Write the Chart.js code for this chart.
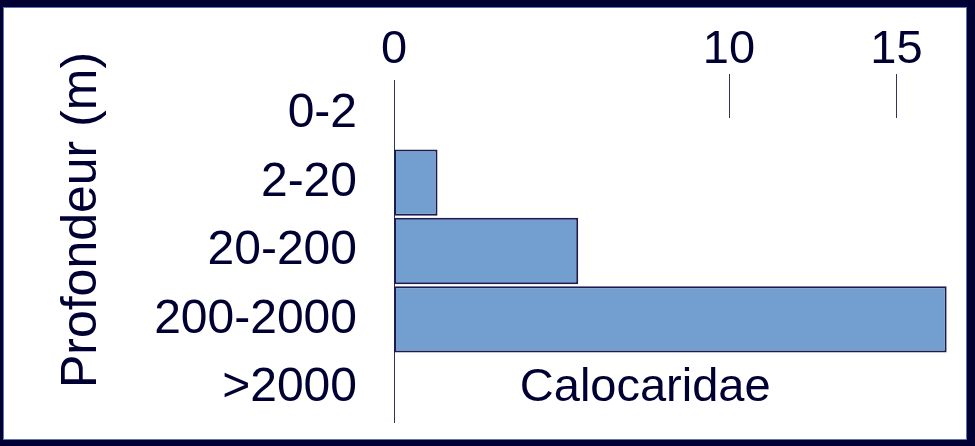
<!DOCTYPE html>
<html>
<head>
<meta charset="utf-8">
<script src="https://cdn.jsdelivr.net/npm/chart.js@4.4.1/dist/chart.umd.min.js"></script>
<style>
  html, body { margin: 0; padding: 0; background: #000033; }
  body { width: 975px; height: 446px; position: relative; overflow: hidden; }
  #frame {
    position: absolute; left: 3px; top: 7px; width: 964px; height: 433px;
    background: #ffffff; box-shadow: inset 0 0 0 1px #5a78b8;
  }
  canvas { display: block; }
</style>
</head>
<body>
<div id="frame"><canvas id="c" width="964" height="433"></canvas></div>
<script>
// Depth classes (m) and number of Calocaridae species per class
const depthClasses = ['0-2', '2-20', '20-200', '200-2000', '>2000'];
const speciesCount = [0, 1.3, 5.5, 16.5, 0];
const seriesName = 'Calocaridae';
const xTicks = [0, 10, 15];
const axisTitle = 'Profondeur (m)';

const INK = '#000033';
const FONT = 'Liberation Sans, Arial, sans-serif';

// Short tick marks hanging into the plot under the top labels,
// the series name inside the plot, and the rotated depth title
const decorations = {
  id: 'decorations',
  afterDraw(chart) {
    const { ctx, chartArea, scales } = chart;
    ctx.save();
    ctx.strokeStyle = '#333355';
    ctx.lineWidth = 1;
    xTicks.forEach(v => {
      if (v === 0) return;
      const px = Math.round(scales.x.getPixelForValue(v)) + 0.5;
      ctx.beginPath();
      ctx.moveTo(px, chartArea.top - 6);
      ctx.lineTo(px, chartArea.top + 38);
      ctx.stroke();
    });
    ctx.fillStyle = INK;
    ctx.font = '47px ' + FONT;
    ctx.textAlign = 'center';
    ctx.textBaseline = 'middle';
    ctx.fillText(chart.data.datasets[0].label,
      scales.x.getPixelForValue(7.5),
      scales.y.getPixelForValue(depthClasses.length - 1));

    ctx.font = '50px ' + FONT;
    ctx.translate(79, chartArea.top + 140);
    ctx.rotate(-Math.PI / 2);
    ctx.fillText(axisTitle, 0, 0);
    ctx.restore();
  }
};

new Chart(document.getElementById('c'), {
  type: 'bar',
  data: {
    labels: depthClasses,
    datasets: [{
      label: seriesName,
      data: speciesCount,
      backgroundColor: '#729fcf',
      borderColor: '#1c1c50',
      borderWidth: ctx => (ctx.raw ? 2 : 0),
      borderSkipped: false,
      categoryPercentage: 1,
      barPercentage: 0.97
    }]
  },
  options: {
    indexAxis: 'y',
    responsive: false,
    animation: false,
    devicePixelRatio: 1,
    layout: { padding: { left: 0, right: 17, top: 0, bottom: 18 } },
    plugins: { legend: { display: false }, tooltip: { enabled: false } },
    scales: {
      x: {
        position: 'top',
        min: 0,
        max: 16.6,
        afterBuildTicks: scale => { scale.ticks = xTicks.map(v => ({ value: v })); },
        afterFit: scale => { scale.height = 73; scale.paddingLeft = 0; scale.paddingRight = 0; },
        grid: { display: false, drawTicks: false },
        border: { display: false },
        ticks: { color: INK, font: { family: FONT, size: 47 }, padding: 2, maxRotation: 0 }
      },
      y: {
        afterFit: scale => { scale.width = 391; scale.paddingTop = 0; scale.paddingBottom = 0; },
        grid: { display: false, drawTicks: false },
        border: { display: true, color: '#333355', width: 1 },
        ticks: { color: INK, font: { family: FONT, size: 48 }, padding: 37 }
      }
    }
  },
  plugins: [decorations]
});
</script>
</body>
</html>
